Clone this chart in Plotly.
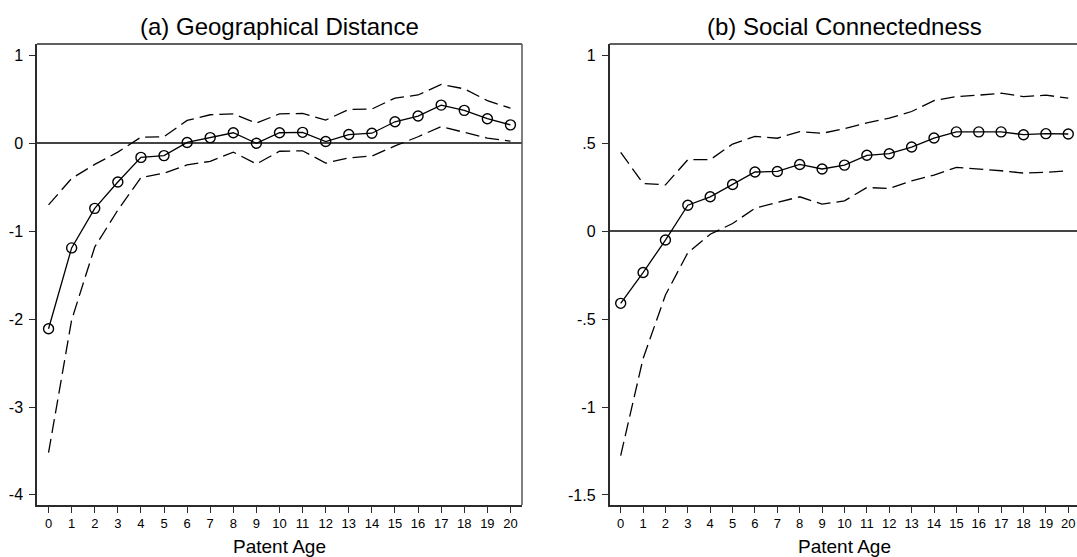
import plotly.graph_objects as go

ages = list(range(21))

geo_est = [-2.11, -1.19, -0.74, -0.44, -0.16, -0.14, 0.01, 0.065, 0.12, 0.0, 0.12,
           0.125, 0.02, 0.10, 0.115, 0.245, 0.31, 0.435, 0.375, 0.28, 0.21]
geo_hi = [-0.70, -0.40, -0.24, -0.10, 0.07, 0.075, 0.26, 0.325, 0.335, 0.23, 0.335,
          0.34, 0.265, 0.385, 0.39, 0.515, 0.55, 0.67, 0.62, 0.485, 0.40]
geo_lo = [-3.52, -2.01, -1.18, -0.76, -0.39, -0.34, -0.245, -0.205, -0.10, -0.235, -0.09,
          -0.085, -0.225, -0.165, -0.145, -0.03, 0.075, 0.19, 0.125, 0.06, 0.025]

soc_est = [-0.41, -0.235, -0.05, 0.148, 0.196, 0.266, 0.337, 0.340, 0.380, 0.354, 0.376,
           0.432, 0.441, 0.479, 0.530, 0.565, 0.565, 0.565, 0.549, 0.555, 0.553]
soc_hi = [0.449, 0.272, 0.264, 0.407, 0.407, 0.496, 0.540, 0.529, 0.567, 0.557, 0.584,
          0.616, 0.643, 0.681, 0.743, 0.766, 0.774, 0.785, 0.766, 0.774, 0.757]
soc_lo = [-1.276, -0.724, -0.363, -0.122, -0.017, 0.044, 0.131, 0.163, 0.196, 0.154, 0.173,
          0.249, 0.243, 0.287, 0.319, 0.363, 0.354, 0.344, 0.331, 0.335, 0.344]

geo_ticks = [1, 0, -1, -2, -3, -4]
geo_ticktext = ["1", "0", "-1", "-2", "-3", "-4"]
soc_ticks = [1, 0.5, 0, -0.5, -1, -1.5]
soc_ticktext = ["1", ".5", "0", "-.5", "-1", "-1.5"]

titles = ["(a) Geographical Distance", "(b) Social Connectedness"]
xtitle = "Patent Age"

FONT = "Liberation Sans, Arial, sans-serif"
FRAME = "#2b2b2b"
W, H = 1077, 557

fig = go.Figure()

dash = "14px,6px"
for est, hi, lo, xa, ya in [(geo_est, geo_hi, geo_lo, "x", "y"),
                            (soc_est, soc_hi, soc_lo, "x2", "y2")]:
    fig.add_trace(go.Scatter(x=ages, y=hi, mode="lines", xaxis=xa, yaxis=ya,
                             line=dict(color="black", width=1.3, dash=dash),
                             showlegend=False, hoverinfo="skip"))
    fig.add_trace(go.Scatter(x=ages, y=lo, mode="lines", xaxis=xa, yaxis=ya,
                             line=dict(color="black", width=1.3, dash=dash),
                             showlegend=False, hoverinfo="skip"))
    fig.add_trace(go.Scatter(x=ages, y=est, mode="lines+markers", xaxis=xa, yaxis=ya,
                             line=dict(color="black", width=1.3),
                             marker=dict(symbol="circle-open", size=10, color="black",
                                         line=dict(width=1.4, color="black")),
                             showlegend=False))

left_dom = [37 / W, 522 / W]
right_dom = [609.5 / W, 1.0]

xcommon = dict(tickvals=ages, ticktext=[str(a) for a in ages], ticks="outside",
               ticklen=6, tickwidth=1.2, tickcolor=FRAME, showgrid=False,
               zeroline=False, showline=True, linecolor=FRAME, linewidth=1.5,
               tickfont=dict(family=FONT, size=13, color="black"))
ycommon = dict(ticks="outside", ticklen=6, tickwidth=1.2, tickcolor=FRAME,
               showgrid=False, zeroline=True, zerolinecolor="#444444",
               zerolinewidth=1.5, showline=True, linecolor=FRAME, linewidth=1.5,
               tickfont=dict(family=FONT, size=16, color="black"), ticklabelstandoff=3)

fig.update_layout(
    width=W, height=H,
    margin=dict(l=0, r=0, t=44, b=52),
    paper_bgcolor="white", plot_bgcolor="white",
    xaxis=dict(domain=left_dom, range=[-0.5, 20.5], anchor="y", **xcommon),
    yaxis=dict(domain=[0, 1], range=[-4.115, 1.13], anchor="x",
               tickvals=geo_ticks, ticktext=geo_ticktext, **ycommon),
    xaxis2=dict(domain=right_dom, range=[-0.5, 20.39], anchor="y2", **xcommon),
    yaxis2=dict(domain=[0, 1], range=[-1.557, 1.065], anchor="x2",
                tickvals=soc_ticks, ticktext=soc_ticktext, **ycommon),
)

shapes = [
    dict(type="line", xref="x domain", yref="y domain", x0=0, x1=1, y0=1, y1=1,
         line=dict(color=FRAME, width=1.5)),
    dict(type="line", xref="x domain", yref="y domain", x0=1, x1=1, y0=0, y1=1,
         line=dict(color="#555555", width=1.5)),
    dict(type="line", xref="x2 domain", yref="y2 domain", x0=0, x1=1, y0=1, y1=1,
         line=dict(color=FRAME, width=1.5)),
]
fig.update_layout(shapes=shapes)

centers = [(37 + 522) / 2 / W, (609.5 + 1079.5) / 2 / W]
annotations = []
for c, t in zip(centers, titles):
    annotations.append(dict(text=t, x=c, y=(505 - 27) / 461, xref="paper", yref="paper",
                            xanchor="center", yanchor="middle", showarrow=False,
                            font=dict(family=FONT, size=24, color="black")))
    annotations.append(dict(text=xtitle, x=c, y=(505 - 546) / 461, xref="paper", yref="paper",
                            xanchor="center", yanchor="middle", showarrow=False,
                            font=dict(family=FONT, size=19, color="black")))
fig.update_layout(annotations=annotations)

fig.write_html("out.html")
